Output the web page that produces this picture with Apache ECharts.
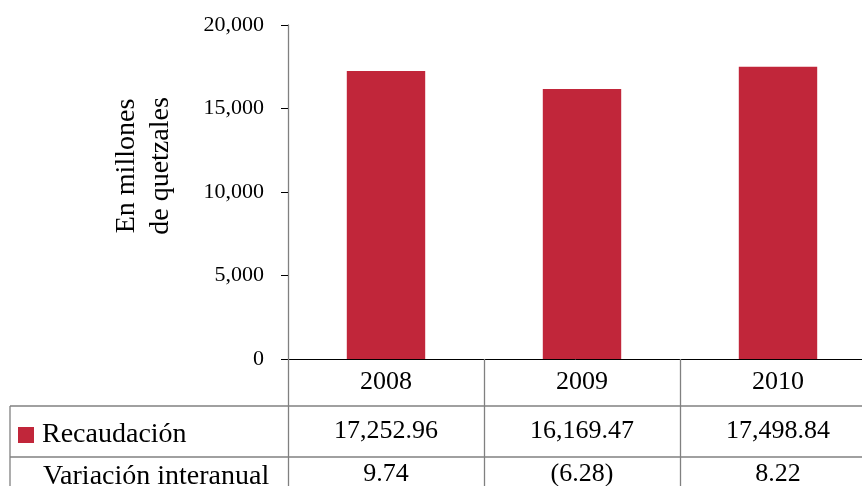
<!DOCTYPE html>
<html>
<head>
<meta charset="utf-8">
<script src="https://cdn.jsdelivr.net/npm/echarts@6/dist/echarts.min.js"></script>
<style>
html,body{margin:0;padding:0;background:#fff;}
#chart{width:862px;height:486px;}
</style>
</head>
<body>
<div id="chart"></div>
<script>
// ---- data ----
var categories = ['2008', '2009', '2010'];
var recaudacion = [17252.96, 16169.47, 17498.84];
var variacion = [9.74, -6.28, 8.22];
var yTicks = [0, 5000, 10000, 15000, 20000];
var seriesName = 'Recaudación';
var rowLabel2 = 'Variación interanual';
var yTitle = 'En millones\nde quetzales';

// ---- helpers ----
function withCommas(s) {
  var parts = s.split('.');
  parts[0] = parts[0].replace(/\B(?=(\d{3})+(?!\d))/g, ',');
  return parts.join('.');
}
function fmtMoney(v) { return withCommas(v.toFixed(2)); }
function fmtVar(v) { return v < 0 ? '(' + Math.abs(v).toFixed(2) + ')' : v.toFixed(2); }

var FONT = 'Liberation Serif';
var RED = '#C1263A';
var GRAY = '#808080';
var ROW1 = 47, ROW2 = 51, ROW3 = 35;

var chart = echarts.init(document.getElementById('chart'), null, {renderer: 'canvas'});

var option = {
  animation: false,
  backgroundColor: '#fff',
  textStyle: {fontFamily: FONT, color: '#000'},
  grid: {left: 288, top: 25, right: -14, bottom: 127, outerBoundsMode: 'none', containLabel: false},
  legend: {
    show: true,
    left: 18, top: 421,
    padding: 0,
    icon: 'rect',
    itemWidth: 16, itemHeight: 16,
    selectedMode: false,
    textStyle: {fontFamily: FONT, fontSize: 28, color: '#000', padding: [0, 0, 0, 3]},
    data: [seriesName]
  },
  xAxis: {
    type: 'category',
    data: categories,
    boundaryGap: true,
    axisLine: {show: true, lineStyle: {color: '#000', width: 1}},
    axisTick: {show: true, interval: 0, length: 130, lineStyle: {color: GRAY, width: 1.3}},
    axisLabel: {
      interval: 0,
      margin: 0,
      fontFamily: FONT,
      color: '#000',
      formatter: function (value, idx) {
        return '{a|' + value + '}\n{b|' + fmtMoney(recaudacion[idx]) + '}\n{c|' + fmtVar(variacion[idx]) + '}';
      },
      rich: {
        a: {fontFamily: FONT, fontSize: 26, lineHeight: ROW1, color: '#000'},
        b: {fontFamily: FONT, fontSize: 26, lineHeight: ROW2, color: '#000'},
        c: {fontFamily: FONT, fontSize: 26, lineHeight: ROW3, color: '#000'}
      }
    }
  },
  yAxis: {
    type: 'value',
    min: yTicks[0],
    max: yTicks[yTicks.length - 1],
    interval: yTicks[1] - yTicks[0],
    axisLine: {show: true, lineStyle: {color: GRAY, width: 1.3}},
    axisTick: {show: true, length: 7, lineStyle: {color: '#000', width: 1}},
    splitLine: {show: false},
    axisLabel: {
      margin: 24,
      fontFamily: FONT,
      fontSize: 22,
      color: '#000',
      formatter: function (v) { return withCommas(String(v)); }
    }
  },
  series: [{
    name: seriesName,
    type: 'bar',
    data: recaudacion,
    barWidth: '40%',
    itemStyle: {color: RED}
  }]
};
chart.setOption(option);

// table lines computed from the chart's own scale
var y0 = chart.convertToPixel({yAxisIndex: 0}, 0);
var W = chart.getWidth(), H = chart.getHeight();
var tableLeft = 10;
var yRow2 = y0 + ROW1, yRow3 = y0 + ROW1 + ROW2;
var lineStyle = {stroke: GRAY, lineWidth: 1.3};
chart.setOption({
  graphic: [
    {type: 'line', shape: {x1: tableLeft, y1: yRow2, x2: W, y2: yRow2}, style: lineStyle, silent: true},
    {type: 'line', shape: {x1: tableLeft, y1: yRow3, x2: W, y2: yRow3}, style: lineStyle, silent: true},
    {type: 'line', shape: {x1: tableLeft, y1: yRow2, x2: tableLeft, y2: H}, style: lineStyle, silent: true},
    {type: 'text', x: 43, y: yRow3 + ROW3 / 2 + 2, style: {text: rowLabel2, font: '28px "' + FONT + '"', fill: '#000', textVerticalAlign: 'middle', textAlign: 'left'}, silent: true},
    {type: 'text', x: 144, y: 166, rotation: Math.PI / 2, style: {text: yTitle, font: '28px "' + FONT + '"', lineHeight: 34, fill: '#000', textVerticalAlign: 'middle', textAlign: 'center'}, silent: true}
  ]
});
</script>
</body>
</html>
